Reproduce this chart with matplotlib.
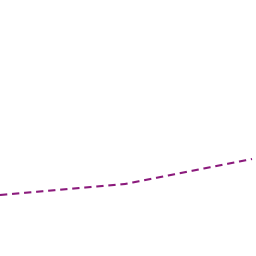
import matplotlib
matplotlib.use("Agg")
import matplotlib.pyplot as plt

x = [0, 125, 252]
y = [61, 72, 97]

fig = plt.figure(figsize=(2.56, 2.56), dpi=100)
ax = fig.add_axes([0, 0, 1, 1])
ax.plot(x, y, color="#8b1a7c", linewidth=1.5, linestyle=(0, (3.5, 2.3)))
ax.set_xlim(0, 256)
ax.set_ylim(0, 256)
ax.axis("off")
fig.savefig("out.png", dpi=100)
